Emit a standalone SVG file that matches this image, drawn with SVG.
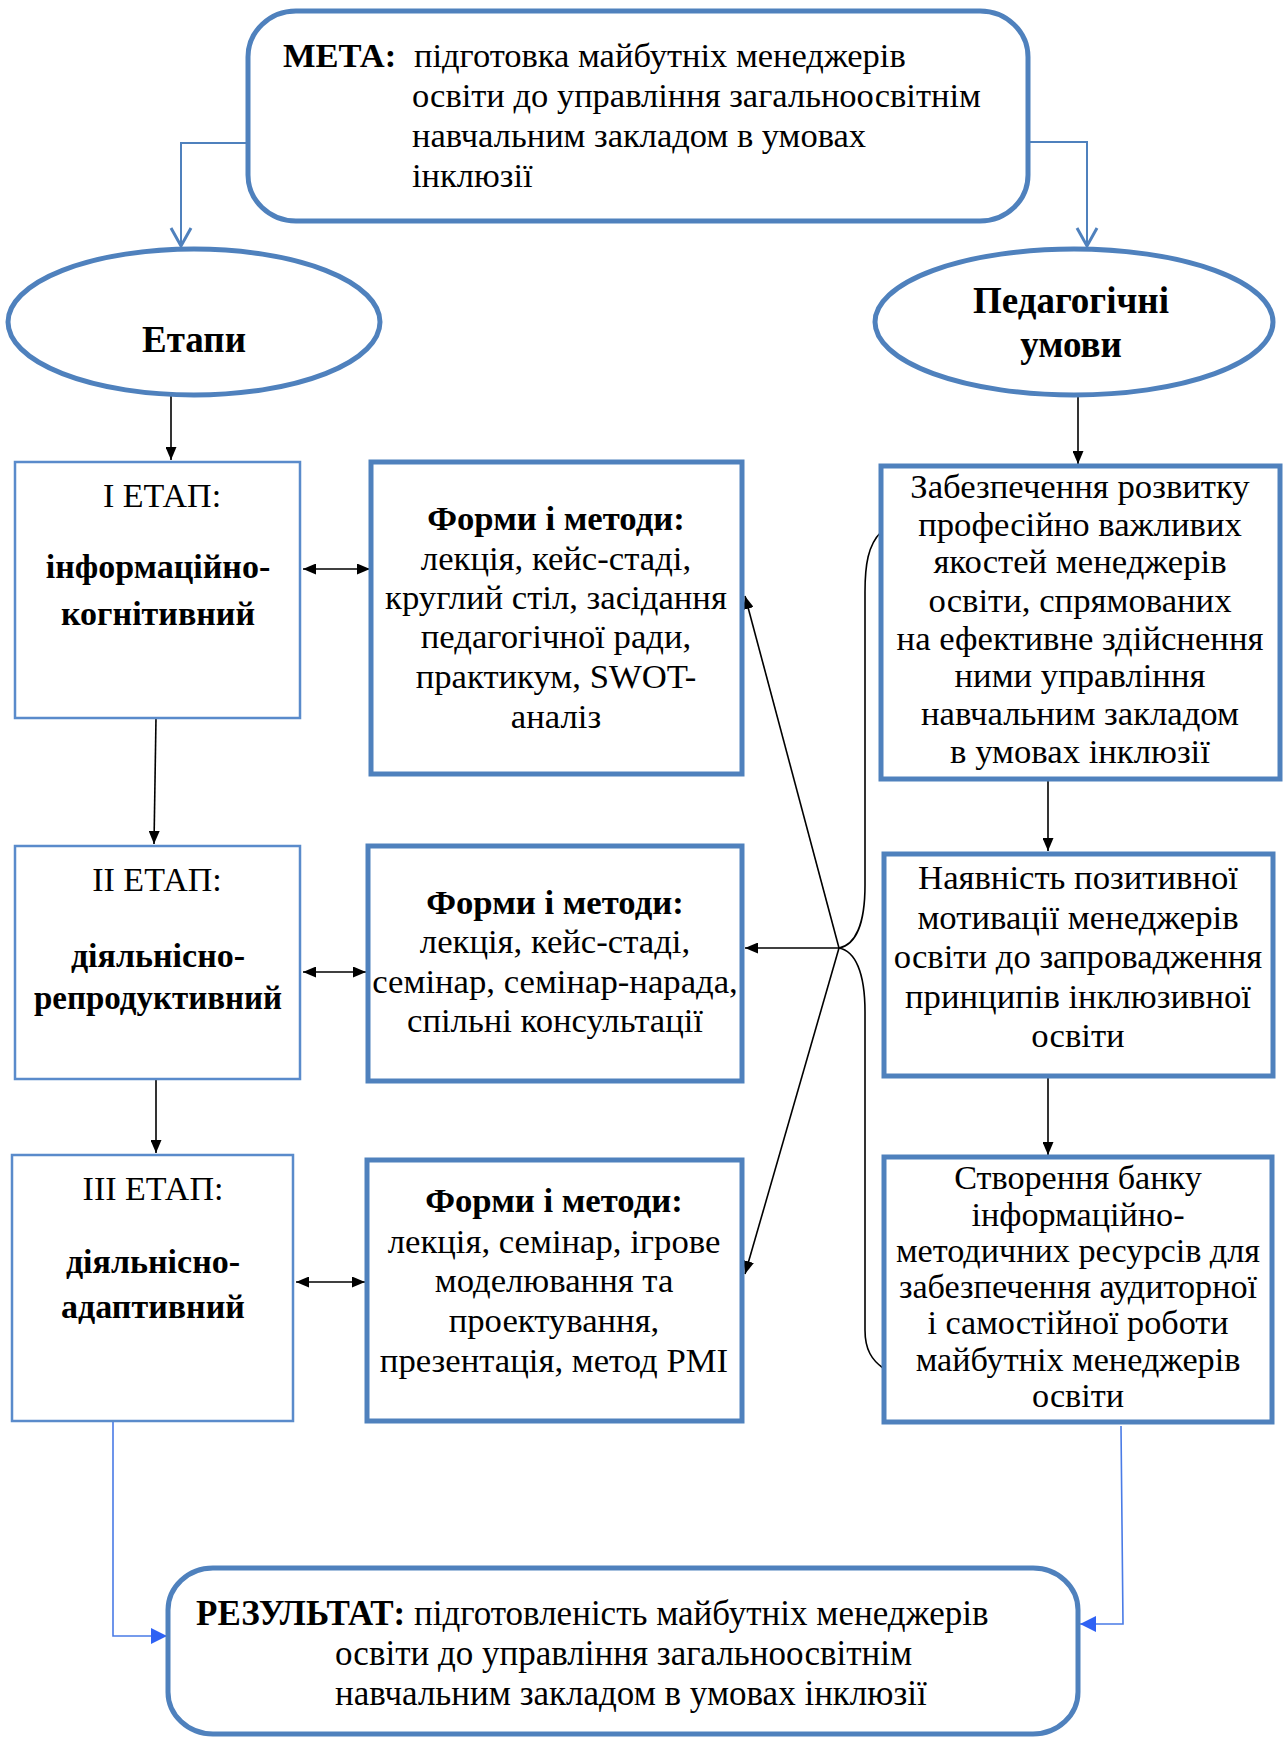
<svg xmlns="http://www.w3.org/2000/svg" width="1283" height="1738" viewBox="0 0 1283 1738">
<style>
text{font-family:"Liberation Serif","Times New Roman",serif;fill:#000;}
.t{font-size:34.7px;}
.b{font-weight:bold;}
.c{text-anchor:middle;}
.thick{fill:#fff;stroke:#4f81bd;stroke-width:5;}
.thin{fill:#fff;stroke:#5a8bcb;stroke-width:2.5;}
.blk{fill:none;stroke:#000;stroke-width:1.6;}
.top{fill:none;stroke:#4f81bd;stroke-width:2;}
.bot{fill:none;stroke:#4a7be6;stroke-width:1.6;}
</style>
<defs>
<marker id="ah" viewBox="0 0 13 11" refX="13" refY="5.5" markerWidth="13" markerHeight="11" markerUnits="userSpaceOnUse" orient="auto-start-reverse"><path d="M0,0 L13,5.5 L0,11 z" fill="#000"/></marker>
<marker id="av" viewBox="0 0 24 24" refX="20" refY="12" markerWidth="24" markerHeight="24" markerUnits="userSpaceOnUse" orient="auto"><path d="M2,2 L20,12 L2,22" fill="none" stroke="#4f81bd" stroke-width="3"/></marker>
<marker id="ab" viewBox="0 0 16 16" refX="16" refY="8" markerWidth="16" markerHeight="16" markerUnits="userSpaceOnUse" orient="auto"><path d="M0,0 L16,8 L0,16 z" fill="#2f62f4"/></marker>
</defs>

<g id="connectors">
<path class="top" d="M248,143 L181,143 L181,246" marker-end="url(#av)"/>
<path class="top" d="M1028,142 L1087,142 L1087,246" marker-end="url(#av)"/>
<path class="blk" d="M171,396 L171,460" marker-end="url(#ah)"/>
<path class="blk" d="M1078,396 L1078,464" marker-end="url(#ah)"/>
<path class="blk" d="M156,718 L154,844" marker-end="url(#ah)"/>
<path class="blk" d="M156,1080 L156,1153" marker-end="url(#ah)"/>
<path class="blk" d="M1048,781 L1048,851" marker-end="url(#ah)"/>
<path class="blk" d="M1048,1077 L1048,1155" marker-end="url(#ah)"/>
<path class="blk" d="M303,569 L370,569" marker-start="url(#ah)" marker-end="url(#ah)"/>
<path class="blk" d="M303,972 L366,972" marker-start="url(#ah)" marker-end="url(#ah)"/>
<path class="blk" d="M296,1282 L365,1282" marker-start="url(#ah)" marker-end="url(#ah)"/>
<path class="blk" d="M881,532 C868,545 865,565 865,592 L865,885 C865,925 855,945 839,948 C855,951 865,972 865,1012 L865,1330 C865,1350 872,1360 883,1368"/>
<path class="blk" d="M839,948 L745,948" marker-end="url(#ah)"/>
<path class="blk" d="M839,948 L745,596" marker-end="url(#ah)"/>
<path class="blk" d="M839,948 L745,1274" marker-end="url(#ah)"/>
<path class="bot" d="M113,1418 L113,1636 L167,1636" marker-end="url(#ab)"/>
<path class="bot" d="M1121,1426 L1123,1624 L1080,1624" marker-end="url(#ab)"/>
</g>

<g id="meta">
<rect class="thick" x="248" y="11" width="780" height="210" rx="48" ry="46"/>
<text class="t" style="font-size:34.5px" x="283" y="67"><tspan class="b">МЕТА:</tspan><tspan x="414">підготовка майбутніх менеджерів</tspan></text>
<text class="t" style="font-size:34.5px" x="412" y="107">освіти до управління загальноосвітнім</text>
<text class="t" style="font-size:34.5px" x="412" y="147">навчальним закладом в умовах</text>
<text class="t" style="font-size:34.5px" x="412" y="187">інклюзії</text>
</g>

<g id="etapy">
<ellipse class="thick" cx="194" cy="322" rx="186" ry="73"/>
<text class="t b c" style="font-size:37px" x="194" y="352">Етапи</text>
</g>

<g id="umovy">
<ellipse class="thick" cx="1074" cy="322" rx="199" ry="73"/>
<text class="t b c" style="font-size:37px" x="1071" y="313">Педагогічні</text>
<text class="t b c" style="font-size:37px" x="1071" y="357">умови</text>
</g>

<g id="etap1">
<rect class="thin" x="15" y="462" width="285" height="256"/>
<text class="t c" style="font-size:34px" x="162" y="507">І ЕТАП:</text>
<text class="t b c" style="font-size:34px" x="158" y="578">інформаційно-</text>
<text class="t b c" style="font-size:34px" x="158" y="625">когнітивний</text>
</g>

<g id="forms1">
<rect class="thick" x="371" y="462" width="371" height="312"/>
<text class="t b c" x="556" y="530">Форми і методи:</text>
<text class="t c" x="556" y="570">лекція, кейс-стаді,</text>
<text class="t c" x="556" y="609">круглий стіл, засідання</text>
<text class="t c" x="556" y="648">педагогічної ради,</text>
<text class="t c" x="556" y="688">практикум, SWOT-</text>
<text class="t c" x="556" y="728">аналіз</text>
</g>

<g id="etap2">
<rect class="thin" x="15" y="846" width="285" height="233"/>
<text class="t c" style="font-size:34px" x="157" y="891">ІІ ЕТАП:</text>
<text class="t b c" style="font-size:34px" x="158" y="967">діяльнісно-</text>
<text class="t b c" style="font-size:33px" x="158" y="1009">репродуктивний</text>
</g>

<g id="forms2">
<rect class="thick" x="368" y="846" width="374" height="235"/>
<text class="t b c" x="555" y="914">Форми і методи:</text>
<text class="t c" x="555" y="953">лекція, кейс-стаді,</text>
<text class="t c" x="555" y="993">семінар, семінар-нарада,</text>
<text class="t c" x="555" y="1032">спільні консультації</text>
</g>

<g id="etap3">
<rect class="thin" x="12" y="1155" width="281" height="266"/>
<text class="t c" style="font-size:34px" x="153" y="1200">ІІІ ЕТАП:</text>
<text class="t b c" style="font-size:34px" x="153" y="1273">діяльнісно-</text>
<text class="t b c" style="font-size:34px" x="153" y="1318">адаптивний</text>
</g>

<g id="forms3">
<rect class="thick" x="367" y="1160" width="375" height="261"/>
<text class="t b c" x="554" y="1212">Форми і методи:</text>
<text class="t c" x="554" y="1253">лекція, семінар, ігрове</text>
<text class="t c" x="554" y="1292">моделювання та</text>
<text class="t c" x="554" y="1332">проектування,</text>
<text class="t c" x="554" y="1372">презентація, метод PMI</text>
</g>

<g id="cond1">
<rect class="thick" x="881" y="466" width="399" height="313"/>
<text class="t c" x="1080" y="498">Забезпечення розвитку</text>
<text class="t c" x="1080" y="536">професійно важливих</text>
<text class="t c" x="1080" y="573">якостей менеджерів</text>
<text class="t c" x="1080" y="612">освіти, спрямованих</text>
<text class="t c" x="1080" y="650">на ефективне здійснення</text>
<text class="t c" x="1080" y="687">ними управління</text>
<text class="t c" x="1080" y="725">навчальним закладом</text>
<text class="t c" x="1080" y="763">в умовах інклюзії</text>
</g>

<g id="cond2">
<rect class="thick" x="884" y="854" width="389" height="222"/>
<text class="t c" x="1078" y="889">Наявність позитивної</text>
<text class="t c" x="1078" y="929">мотивації менеджерів</text>
<text class="t c" x="1078" y="968">освіти до запровадження</text>
<text class="t c" x="1078" y="1008">принципів інклюзивної</text>
<text class="t c" x="1078" y="1047">освіти</text>
</g>

<g id="cond3">
<rect class="thick" x="884" y="1157" width="388" height="265"/>
<text class="t c" style="font-size:34.2px" x="1078" y="1189">Створення банку</text>
<text class="t c" style="font-size:34.2px" x="1078" y="1225.5">інформаційно-</text>
<text class="t c" style="font-size:34.2px" x="1078" y="1261.7">методичних ресурсів для</text>
<text class="t c" style="font-size:34.2px" x="1078" y="1298">забезпечення аудиторної</text>
<text class="t c" style="font-size:34.2px" x="1078" y="1334.3">і самостійної роботи</text>
<text class="t c" style="font-size:34.2px" x="1078" y="1370.7">майбутніх менеджерів</text>
<text class="t c" style="font-size:34.2px" x="1078" y="1407">освіти</text>
</g>

<g id="result">
<rect class="thick" x="168" y="1568" width="910" height="166" rx="45" ry="42"/>
<text class="t" style="font-size:35px" x="196" y="1625"><tspan class="b">РЕЗУЛЬТАТ:</tspan> підготовленість майбутніх менеджерів</text>
<text class="t" style="font-size:35px" x="335" y="1665">освіти до управління загальноосвітнім</text>
<text class="t" style="font-size:35px" x="335" y="1705">навчальним закладом в умовах інклюзії</text>
</g>
</svg>
